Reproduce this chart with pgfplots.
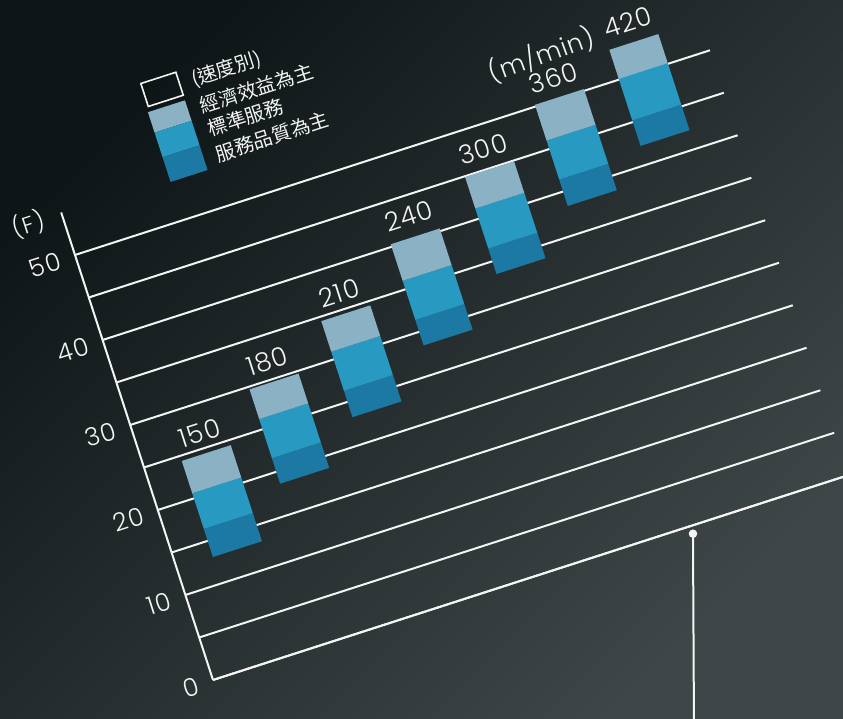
\documentclass[border=0pt]{standalone}
\usepackage{pgfplots}
\pgfplotsset{compat=1.18}
\usepackage{fontspec}
\setmainfont{Poppins}[UprightFont=* Light, LetterSpace=4]
\newfontfamily\cjk{Noto Sans CJK TC}
\definecolor{lightseg}{HTML}{8AB2C4}
\definecolor{midseg}{HTML}{2899C0}
\definecolor{darkseg}{HTML}{1C79A3}
\definecolor{gridc}{HTML}{F4F4F4}
\definecolor{bgA}{HTML}{0E1517}
\definecolor{bgB}{HTML}{1B2325}
\definecolor{bgC}{HTML}{3E4648}
\begin{document}
\begin{tikzpicture}
\useasboundingbox (0,0) rectangle (421.5pt,359.5pt);
\shade[shading=axis, top color=bgA, middle color=bgB, bottom color=bgC, shading angle=45] (0,0) rectangle (421.5pt,359.5pt);
\clip (0,0) rectangle (421.5pt,359.5pt);
\begin{axis}[
  at={(106.5pt,19.5pt)}, anchor=origin,
  x={(0.5pt,0.1612pt)}, y={(-1.38pt,4.25pt)},
  xmin=0, xmax=635, ymin=0, ymax=55,
  clip=false,
  axis lines=left, axis line style={-, gridc, line width=1pt},
  xtick=\empty,
  ytick={0,10,...,50}, minor ytick={5,15,...,45},
  ymajorgrids, yminorgrids,
  major grid style={gridc, line width=1pt},
  minor grid style={gridc, line width=1pt},
  major tick length=0pt, minor tick length=0pt,
  tick style={draw=none},
  yticklabel style={rotate=17.85, anchor=east, inner sep=0pt, xshift=-7.5pt, font=\fontsize{12.5}{12.5}\selectfont, text=gridc},
  /pgf/number format/assume math mode=true,
]
% 150
\addplot[fill=darkseg, draw=none] coordinates {(36.1,13.1) (85.1,13.1) (85.1,16.4) (36.1,16.4)} --cycle;
\addplot[fill=midseg, draw=none] coordinates {(36.1,16.4) (85.1,16.4) (85.1,20.6) (36.1,20.6)} --cycle;
\addplot[fill=lightseg, draw=none] coordinates {(36.1,20.6) (85.1,20.6) (85.1,24.4) (36.1,24.4)} --cycle;
% 180
\addplot[fill=darkseg, draw=none] coordinates {(118.5,18.6) (167.5,18.6) (167.5,21.6) (118.5,21.6)} --cycle;
\addplot[fill=midseg, draw=none] coordinates {(118.5,21.6) (167.5,21.6) (167.5,26.2) (118.5,26.2)} --cycle;
\addplot[fill=lightseg, draw=none] coordinates {(118.5,26.2) (167.5,26.2) (167.5,29.7) (118.5,29.7)} --cycle;
% 210
\addplot[fill=darkseg, draw=none] coordinates {(203.5,23.2) (252.5,23.2) (252.5,26.3) (203.5,26.3)} --cycle;
\addplot[fill=midseg, draw=none] coordinates {(203.5,26.3) (252.5,26.3) (252.5,30.9) (203.5,30.9)} --cycle;
\addplot[fill=lightseg, draw=none] coordinates {(203.5,30.9) (252.5,30.9) (252.5,34.5) (203.5,34.5)} --cycle;
% 240
\addplot[fill=darkseg, draw=none] coordinates {(289,28.4) (338,28.4) (338,31.4) (289,31.4)} --cycle;
\addplot[fill=midseg, draw=none] coordinates {(289,31.4) (338,31.4) (338,36.0) (289,36.0)} --cycle;
\addplot[fill=lightseg, draw=none] coordinates {(289,36.0) (338,36.0) (338,40.3) (289,40.3)} --cycle;
% 300
\addplot[fill=darkseg, draw=none] coordinates {(376,33.5) (425,33.5) (425,36.5) (376,36.5)} --cycle;
\addplot[fill=midseg, draw=none] coordinates {(376,36.5) (425,36.5) (425,41.2) (376,41.2)} --cycle;
\addplot[fill=lightseg, draw=none] coordinates {(376,41.2) (425,41.2) (425,44.9) (376,44.9)} --cycle;
% 360
\addplot[fill=darkseg, draw=none] coordinates {(460.5,38.3) (509.5,38.3) (509.5,41.4) (460.5,41.4)} --cycle;
\addplot[fill=midseg, draw=none] coordinates {(460.5,41.4) (509.5,41.4) (509.5,46.0) (460.5,46.0)} --cycle;
\addplot[fill=lightseg, draw=none] coordinates {(460.5,46.0) (509.5,46.0) (509.5,50.2) (460.5,50.2)} --cycle;
% 420
\addplot[fill=darkseg, draw=none] coordinates {(544,42.2) (593,42.2) (593,45.2) (544,45.2)} --cycle;
\addplot[fill=midseg, draw=none] coordinates {(544,45.2) (593,45.2) (593,50.1) (544,50.1)} --cycle;
\addplot[fill=lightseg, draw=none] coordinates {(544,50.1) (593,50.1) (593,53.5) (544,53.5)} --cycle;
% speed labels
\addplot[draw=none, mark=none, nodes near coords, point meta=explicit symbolic,
  nodes near coords style={rotate=17.85, anchor=center, inner sep=0pt, font=\fontsize{13}{13}\selectfont, text=gridc}]
  table[meta=lab] {
x y lab
60.6 26.8 150
143 32.1 180
228 36.9 210
313.5 42.7 240
400.5 47.3 300
485 52.4 360
568.5 55.8 420
};
% legend blocks
\addplot[draw=gridc, line width=0.8pt, fill=none] coordinates {(110,63.3) (145,63.3) (145,66.0) (110,66.0)} --cycle;
\addplot[fill=lightseg, draw=none] coordinates {(108,60.3) (145,60.3) (145,62.7) (108,62.7)} --cycle;
\addplot[fill=midseg, draw=none] coordinates {(108,57.4) (145,57.4) (145,60.3) (108,60.3)} --cycle;
\addplot[fill=darkseg, draw=none] coordinates {(108,54.5) (145,54.5) (145,57.4) (108,57.4)} --cycle;
% pointer
\addplot[gridc, line width=1pt, mark=*, mark size=1.6pt, mark indices={1}, mark options={fill=gridc, draw=gridc}] coordinates {(477.5,-0.9) (423,-21)};
% texts
\node[anchor=west, rotate=17.85, inner sep=0pt, font=\cjk\fontsize{9.8}{10}\selectfont, text=gridc] at (axis cs:157,64.6) {(速度別)};
\node[anchor=west, rotate=17.85, inner sep=0pt, font=\cjk\fontsize{9.8}{10}\selectfont, text=gridc] at (axis cs:157,61.5) {經濟效益為主};
\node[anchor=west, rotate=17.85, inner sep=0pt, font=\cjk\fontsize{9.8}{10}\selectfont, text=gridc] at (axis cs:157,58.8) {標準服務};
\node[anchor=west, rotate=17.85, inner sep=0pt, font=\cjk\fontsize{9.8}{10}\selectfont, text=gridc] at (axis cs:157,55.8) {服務品質為主};
\node[rotate=20, inner sep=0pt, font=\fontsize{12.5}{12.5}\selectfont, text=gridc] at (axis cs:481,55.3) {(m/min)};
\node[rotate=17.85, inner sep=0pt, font=\fontsize{11.5}{11.5}\selectfont, text=gridc] at (axis cs:-33,54.8) {(F)};
\end{axis}
\end{tikzpicture}
\end{document}
